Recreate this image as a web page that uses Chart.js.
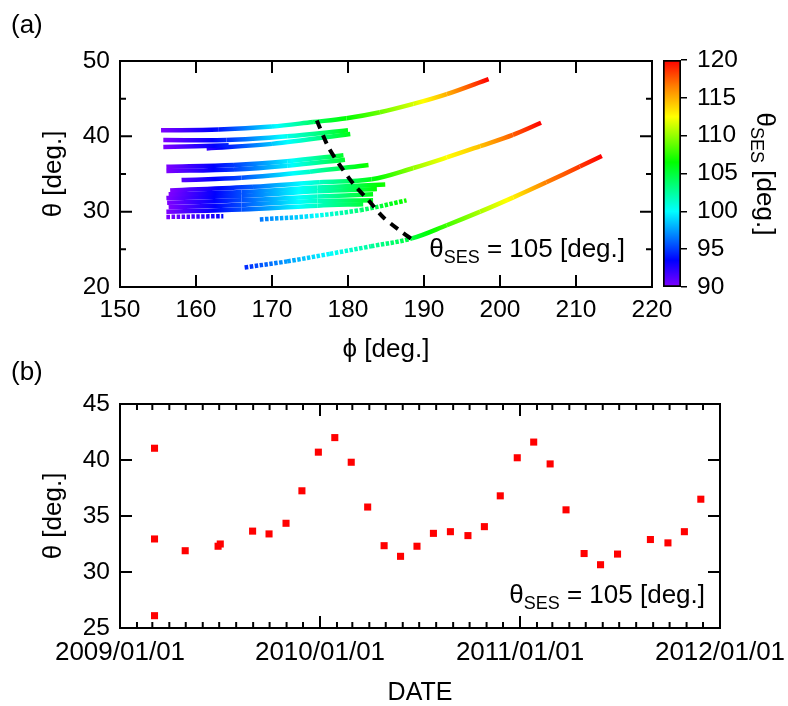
<!DOCTYPE html>
<html>
<head>
<meta charset="utf-8">
<script src="https://cdn.jsdelivr.net/npm/chart.js@4.4.1/dist/chart.umd.min.js"></script>
<style>
html, body { margin: 0; padding: 0; background: #fff; }
#wrap { position: relative; width: 788px; height: 706px; }
canvas { position: absolute; }
</style>
</head>
<body>
<div id="wrap">
<canvas id="grafA" width="788" height="370" style="left:0;top:0"></canvas>
<canvas id="barra" width="148" height="370" style="left:640px;top:0"></canvas>
<canvas id="grafB" width="788" height="356" style="left:0;top:350px"></canvas>
</div>
<script>
// (a) tracks: [phi, theta, thetaSES] read along each band
const trackA1 = [[155.4,40.8,90],[163,40.9,94],[170,41.3,99.5],[175.4,41.9,104],[179.8,42.4,106.5],[184.2,43.2,109],[188.6,44.3,111.5],[193,45.6,115],[198.5,47.6,120]];
const trackA2 = [[155.7,39.5,90],[164,39.5,94.5],[172,40.0,100.5],[180,40.8,106]];
const trackA3 = [[155.7,38.6,90],[164.3,38.8,94.5]];
const trackA4 = [[161.4,38.4,92],[170,39.0,98.5],[180.3,40.3,106]];
const trackB1 = [[156.1,35.95,90],[165,36.2,95],[172,36.7,99.5],[179.4,37.5,105.5]];
const trackB2 = [[156.1,35.4,90],[165,35.6,95],[172,36.1,99.5],[179.6,36.9,105.5]];
const trackB3 = [[158.1,34.2,91],[166,34.5,95.5],[175,35.3,101.5],[182.7,36.2,107]];
const trackC1 = [[156.6,32.8,90],[167.5,33.3,96],[176.3,33.9,101.5],[183.1,34.3,106],[188.6,35.8,110],[193,37.2,112.5],[197.4,38.7,114.5],[201.7,40.2,117.5],[205.4,41.8,120]];
const trackC2 = [[156.4,32.3,90],[166,32.6,95.5],[176,33.2,101.5],[184.9,33.6,107]];
const trackC3 = [[156.1,31.8,90],[166,32.1,95.5],[176,32.7,101.5],[183.8,33.0,106.5]];
const trackC4 = [[156.2,31.2,90],[166,31.5,95.5],[176,32.0,101.5],[183.3,32.3,106]];
const trackC5 = [[156.4,30.6,90],[166,30.9,95.5],[176,31.4,101.5],[183.3,31.5,106]];
const trackC6 = [[156.1,30.0,90],[166,30.3,95.5],[176,30.8,101.5],[182.0,31.0,105]];
const trackC7 = [[156.1,29.3,90],[163.6,29.4,93.5]];
const trackLow = [[168.4,28.97,96.5],[175,29.4,99.5],[181.6,30.2,103.5],[187.7,31.5,107]];
const trackL3 = [[166.4,22.6,94.5],[172,23.4,97.5],[177.6,24.4,100],[183,25.4,102.5],[188.4,26.45,105],[193,28.2,108],[197.4,30.0,110.5],[201.75,31.9,113],[206.1,33.9,116.5],[210.5,36.0,118.5],[213.4,37.4,120]];
const tracks = [trackA1, trackA2, trackA3, trackA4, trackB1, trackB2, trackB3,
  trackC1, trackC2, trackC3, trackC4, trackC5, trackC6, trackC7, trackLow, trackL3];
const tracksPontilhados = [trackC7, trackLow, trackL3];

// dashed line thetaSES = 105
const ses105Phi = [175.9, 177.4, 178.9, 180.7, 182.7, 184.6, 186.8, 188.6];
const ses105Theta = [42.1, 38.6, 36.2, 33.7, 31.5, 29.3, 27.5, 26.2];

// (b) theta at thetaSES = 105
const datas = ['2009-03-05','2009-03-05','2009-03-05','2009-04-30','2009-06-29','2009-07-03','2009-08-31','2009-09-30',
  '2009-10-31','2009-11-29','2009-12-29','2010-01-28','2010-02-27','2010-03-29','2010-04-28','2010-05-28',
  '2010-06-27','2010-07-27','2010-08-27','2010-09-28','2010-10-28','2010-11-26','2010-12-27','2011-01-26',
  '2011-02-25','2011-03-26','2011-04-28','2011-05-28','2011-06-28','2011-08-27','2011-09-28','2011-10-28','2011-11-27'];
const theta105 = [41.05, 32.95, 26.1, 31.9, 32.3, 32.5, 33.65, 33.4,
  34.35, 37.25, 40.7, 42.0, 39.8, 35.8, 32.35, 31.4,
  32.3, 33.45, 33.6, 33.25, 34.05, 36.8, 40.2, 41.6,
  39.65, 35.55, 31.65, 30.65, 31.6, 32.9, 32.6, 33.6, 36.5];

const fonte = "'Liberation Sans', Arial, sans-serif";
Chart.defaults.font.family = fonte;
Chart.defaults.color = '#000';

const paleta = [[90,[128,0,255]],[93.5,[0,0,255]],[100,[0,255,255]],[106.5,[0,255,0]],[112.5,[255,255,0]],[116.5,[255,128,0]],[120,[255,0,0]]];

function corSes(v) {
    if (v <= paleta[0][0]) return 'rgb(' + paleta[0][1].join(',') + ')';
    for (let i = 1; i < paleta.length; i++) {
        if (v <= paleta[i][0]) {
            const [a, ca] = paleta[i - 1];
            const [b, cb] = paleta[i];
            const t = (v - a) / (b - a);
            const c = ca.map((x, k) => Math.round(x + (cb[k] - x) * t));
            return 'rgb(' + c.join(',') + ')';
        }
    }
    return 'rgb(' + paleta[paleta.length - 1][1].join(',') + ')';
}

function corSegmento(c) {
    const ds = c.chart.data.datasets[c.datasetIndex];
    const a = ds.data[c.p0DataIndex].s;
    const b = ds.data[c.p1DataIndex].s;
    if (![c.p0.x, c.p0.y, c.p1.x, c.p1.y].every(Number.isFinite)) return corSes(a);
    const g = c.chart.ctx.createLinearGradient(c.p0.x, c.p0.y, c.p1.x, c.p1.y);
    g.addColorStop(0, corSes(a));
    paleta.forEach(p => {
        if (p[0] > a && p[0] < b) g.addColorStop((p[0] - a) / (b - a), corSes(p[0]));
    });
    g.addColorStop(1, corSes(b));
    return g;
}

// text with subscript runs
function desenhaTexto(ctx, x, y, partes, alinha) {
    let total = 0;
    partes.forEach(p => { ctx.font = p.size + 'px ' + fonte; total += ctx.measureText(p.t).width; });
    let cx = alinha === 'right' ? x - total : alinha === 'center' ? x - total / 2 : x;
    ctx.textAlign = 'left';
    ctx.textBaseline = 'alphabetic';
    ctx.fillStyle = '#000';
    partes.forEach(p => {
        ctx.font = p.size + 'px ' + fonte;
        ctx.fillText(p.t, cx, y + (p.dy || 0));
        cx += ctx.measureText(p.t).width;
    });
}
const rotuloSes = [{t: 'θ', size: 26}, {t: 'SES', size: 18, dy: 6}, {t: ' = 105 [deg.]', size: 26}];

function moldura(opt) {
    return {
        id: 'moldura',
        afterDatasetsDraw(chart) {
            const {ctx, chartArea: a, scales} = chart;
            ctx.save();
            ctx.strokeStyle = '#000';
            ctx.lineWidth = 2;
            ctx.beginPath();
            scales.x.ticks.forEach(t => {
                const len = opt.xLen(t.value);
                if (!len) return;
                const px = scales.x.getPixelForValue(t.value);
                ctx.moveTo(px, a.bottom); ctx.lineTo(px, a.bottom - len);
                ctx.moveTo(px, a.top); ctx.lineTo(px, a.top + len);
            });
            opt.yMarcas.forEach(([v, len]) => {
                const py = scales.y.getPixelForValue(v);
                ctx.moveTo(a.left, py); ctx.lineTo(a.left + len, py);
                ctx.moveTo(a.right, py); ctx.lineTo(a.right - len, py);
            });
            ctx.stroke();
            ctx.strokeRect(a.left, a.top, a.right - a.left, a.bottom - a.top);
            ctx.restore();
            opt.texto(chart);
        }
    };
}

// ---------- (a) ----------
const datasetsA = tracks.map(tr => ({
    data: tr.map(p => ({x: p[0], y: p[1], s: p[2]})),
    showLine: true,
    pointRadius: 0,
    borderWidth: 4.5,
    borderColor: corSes(tr[0][2]),
    tension: 0.35,
    segment: {
        borderColor: corSegmento,
        borderDash: c => (tracksPontilhados.includes(tr) && tr[c.p0DataIndex][2] < 104 ? [3.5, 1.5] : undefined)
    }
}));
datasetsA.push({
    data: ses105Phi.map((p, i) => ({x: p, y: ses105Theta[i]})),
    showLine: true,
    pointRadius: 0,
    borderWidth: 4,
    borderColor: '#000',
    borderDash: [9, 7],
    tension: 0.3,
    order: -1
});

new Chart(document.getElementById('grafA'), {
    type: 'scatter',
    data: { datasets: datasetsA },
    options: {
        responsive: false,
        animation: false,
        devicePixelRatio: 1,
        layout: { padding: { left: 41, top: 61, right: 136, bottom: 0 } },
        plugins: { legend: { display: false }, tooltip: { enabled: false } },
        scales: {
            x: {
                type: 'linear', min: 150, max: 220,
                ticks: { stepSize: 10, font: { size: 24.5 }, padding: 9 },
                grid: { display: false, drawTicks: false },
                border: { display: false },
                title: { display: true, text: 'ϕ [deg.]', font: { size: 26, lineHeight: 1 }, padding: { top: 0, bottom: 7 } },
                afterFit: s => { s.height = 83; s.paddingLeft = 0; s.paddingRight = 0; }
            },
            y: {
                type: 'linear', min: 20, max: 50,
                ticks: { stepSize: 10, font: { size: 24.5 }, padding: 10 },
                grid: { display: false, drawTicks: false },
                border: { display: false },
                title: { display: true, text: 'θ [deg.]', font: { size: 26, lineHeight: 1 }, padding: { top: 0, bottom: 0 } },
                afterFit: s => { s.width = 79; }
            }
        }
    },
    plugins: [moldura({
        xLen: v => 12,
        yMarcas: [[25, 6], [30, 12], [35, 6], [40, 12], [45, 6]],
        texto: chart => {
            const a = chart.chartArea;
            desenhaTexto(chart.ctx, a.right - 27, a.bottom - 30, rotuloSes, 'right');
            desenhaTexto(chart.ctx, 11, 33, [{t: '(a)', size: 26}], 'left');
        }
    })]
});

// ---------- colour bar ----------
new Chart(document.getElementById('barra'), {
    type: 'bar',
    data: {
        labels: [''],
        datasets: [{
            data: [[90, 120]],
            barPercentage: 1,
            categoryPercentage: 1,
            borderColor: '#000',
            borderWidth: 2,
            borderSkipped: false,
            backgroundColor: c => {
                const chart = c.chart;
                const y = chart.scales.y;
                if (!chart.chartArea || !y) return null;
                const y0 = y.getPixelForValue(90), y1 = y.getPixelForValue(120);
                if (!Number.isFinite(y0) || !Number.isFinite(y1)) return null;
                const g = chart.ctx.createLinearGradient(0, y0, 0, y1);
                paleta.forEach(p => g.addColorStop((p[0] - 90) / 30, corSes(p[0])));
                return g;
            }
        }]
    },
    options: {
        responsive: false,
        animation: false,
        devicePixelRatio: 1,
        layout: { padding: { left: 23, top: 60, right: 0, bottom: 83 } },
        plugins: { legend: { display: false }, tooltip: { enabled: false } },
        scales: {
            x: { display: false },
            y: {
                position: 'right', min: 90, max: 120,
                ticks: { stepSize: 5, font: { size: 24.5 }, padding: 10 },
                grid: { display: true, drawOnChartArea: false, drawTicks: true, tickLength: 6, color: '#000', lineWidth: 1.5 },
                border: { display: false },
                afterFit: s => { s.width = 107; }
            }
        }
    },
    plugins: [{
        id: 'tituloBarra',
        afterDraw(chart) {
            const ctx = chart.ctx;
            ctx.save();
            ctx.translate(126, 174);
            ctx.rotate(Math.PI / 2);
            desenhaTexto(ctx, 0, 9, [{t: 'θ', size: 26}, {t: 'SES', size: 18, dy: 6}, {t: ' [deg.]', size: 26}], 'center');
            ctx.restore();
        }
    }]
});

// ---------- (b) ----------
const inicio = Date.UTC(2009, 0, 1);
const fim = Date.UTC(2012, 0, 1);

new Chart(document.getElementById('grafB'), {
    type: 'scatter',
    data: {
        datasets: [{
            data: datas.map((d, i) => ({x: Date.parse(d), y: theta105[i]})),
            pointStyle: 'rect',
            pointRadius: 5,
            borderWidth: 0,
            backgroundColor: '#ff0000'
        }]
    },
    options: {
        responsive: false,
        animation: false,
        devicePixelRatio: 1,
        layout: { padding: { left: 41, top: 54, right: 68, bottom: 0 } },
        plugins: { legend: { display: false }, tooltip: { enabled: false } },
        scales: {
            x: {
                type: 'linear', min: inicio, max: fim,
                afterBuildTicks: s => {
                    const t = [];
                    for (let m = 0; m <= 36; m++) t.push({ value: Date.UTC(2009 + Math.floor(m / 12), m % 12, 1) });
                    s.ticks = t;
                },
                ticks: {
                    autoSkip: false, maxRotation: 0, minRotation: 0,
                    font: { size: 26 }, padding: 9,
                    callback: v => {
                        const d = new Date(v);
                        return d.getUTCMonth() === 0 ? d.getUTCFullYear() + '/01/01' : '';
                    }
                },
                grid: { display: false, drawTicks: false },
                border: { display: false },
                title: { display: true, text: 'DATE', font: { size: 25, lineHeight: 1 }, padding: { top: 0, bottom: 0 } },
                afterFit: s => { s.height = 78; s.paddingLeft = 0; s.paddingRight = 0; }
            },
            y: {
                type: 'linear', min: 25, max: 45,
                ticks: { stepSize: 5, font: { size: 24.5 }, padding: 10 },
                grid: { display: false, drawTicks: false },
                border: { display: false },
                title: { display: true, text: 'θ [deg.]', font: { size: 26, lineHeight: 1 }, padding: { top: 0, bottom: 0 } },
                afterFit: s => { s.width = 79; }
            }
        }
    },
    plugins: [moldura({
        xLen: v => (new Date(v).getUTCMonth() === 0 ? 12 : 6),
        yMarcas: [[30, 12], [35, 12], [40, 12]],
        texto: chart => {
            const a = chart.chartArea;
            desenhaTexto(chart.ctx, a.right - 15, a.bottom - 25, rotuloSes, 'right');
            desenhaTexto(chart.ctx, 11, 30, [{t: '(b)', size: 26}], 'left');
        }
    })]
});
</script>
</body>
</html>
